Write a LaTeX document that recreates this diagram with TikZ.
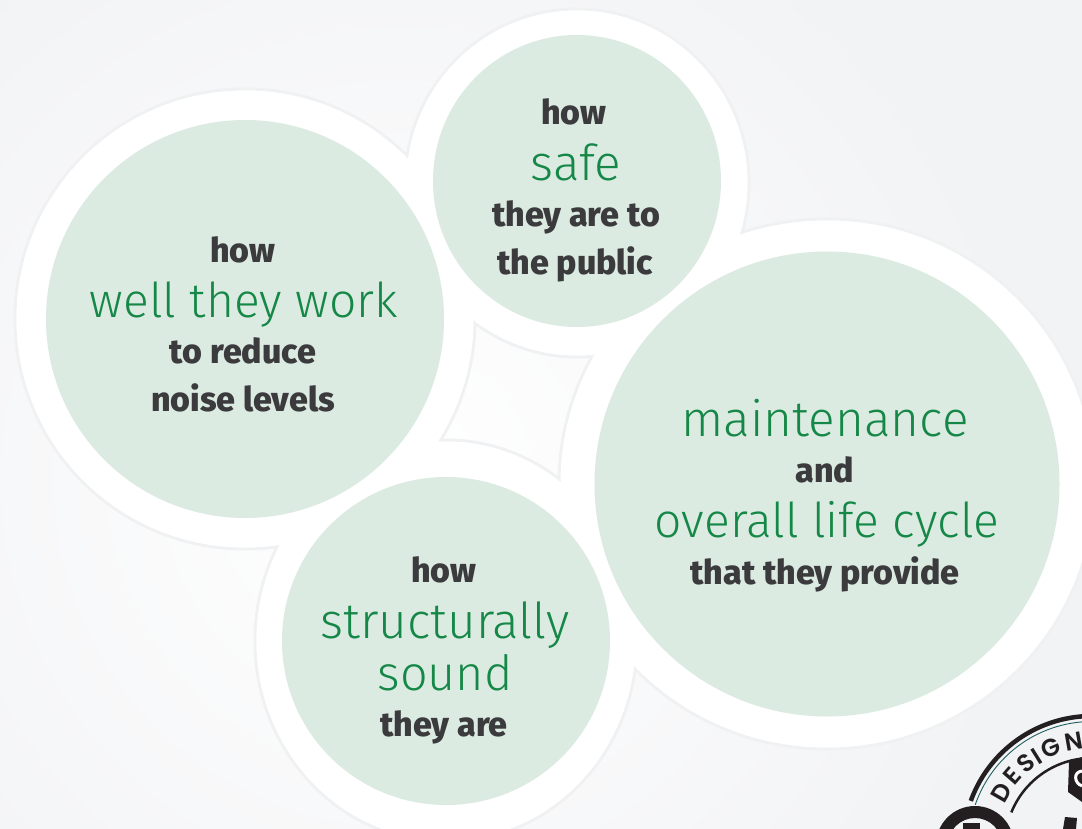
\documentclass[tikz,border=0pt]{standalone}
\usepackage{fontspec}
\setmainfont{Fira Sans}
\newfontfamily\lightfont{Fira Sans Light}
\newfontfamily\heavyfont{Fira Sans ExtraBold}
\newfontfamily\logofont{Poppins SemiBold}
\usetikzlibrary{shapes.geometric}
\definecolor{bgcol}{HTML}{F2F3F5}
\definecolor{rimcol}{HTML}{EFF1F2}
\definecolor{discol}{HTML}{DCEBE2}
\definecolor{greentx}{HTML}{158746}
\definecolor{darktx}{HTML}{3B3B3D}
\definecolor{logoblack}{HTML}{231F20}
\definecolor{logoteal}{HTML}{1F5F60}
\tikzset{
  x=1pt,y=-1pt,
  rim/.style={draw=rimcol,line width=3pt,fill=white},
  halo/.style={fill=white,draw=none},
  disc/.style={fill=discol,draw=none,ellipse,inner sep=0pt},
  bold/.style={font=\heavyfont\fontsize{34}{34}\selectfont,text=darktx,inner sep=0pt,anchor=base},
  big/.style={font=\lightfont\fontsize{#1}{#1}\selectfont,text=greentx,inner sep=0pt,anchor=base},
  big/.default=49,
  logoletter/.style={font=\logofont\fontsize{24.5}{24.5}\selectfont,text=logoblack,inner sep=0pt,rotate=#1},
}
\newcommand{\logoglyph}[3]{\node[logoletter=#2] (logo#1) at ({1092-105*sin(#2)},{845-105*cos(#2)}) {#3};}
\begin{document}
\begin{tikzpicture}
\useasboundingbox (0,0) rectangle (1082,829);
\path[clip] (0,0) rectangle (1082,829);
\fill[bgcol] (0,0) rectangle (1082,829);
\shade[inner color=white,outer color=bgcol] (400,480) circle (640);
% rims of the white surround
\draw[rim] (245,319) circle (230);
\draw[rim] (577,183) ellipse (172 and 174);
\draw[rim] (827,484) ellipse (268 and 265);
\draw[rim] (446,641) ellipse (191 and 201);
\fill[halo] (245,319) circle (228.5);
\fill[halo] (577,183) ellipse (170.5 and 172.5);
\fill[halo] (827,484) ellipse (266.5 and 263.5);
\fill[halo] (446,641) ellipse (189.5 and 199.5);
% discs
\node[disc,minimum width=398pt,minimum height=398pt] (dleft) at (245,319) {};
\node[disc,minimum width=288pt,minimum height=292pt] (dtop) at (577,181) {};
\node[disc,minimum width=465pt,minimum height=465pt] (dright) at (827,484) {};
\node[disc,minimum width=328pt,minimum height=328pt] (dbottom) at (446,641) {};
% texts
\node[bold] (l1) at (243,262) {how};
\node[big=48] (l2) at (244,317) {well they work};
\node[bold] (l3) at (243,363) {to reduce};
\node[bold] (l4) at (243,411) {noise levels};
\node[bold] (t1) at (574,125) {how};
\node[big=49.5] (t2) at (576,181) {safe};
\node[bold] (t3) at (576,227) {they are to};
\node[bold] (t4) at (575,274) {the public};
\node[big=49.5] (r1) at (825,436) {maintenance};
\node[bold] (r2) at (825,482) {and};
\node[big=48] (r3) at (827,537) {overall life cycle};
\node[bold] (r4) at (825,584) {that they provide};
\node[bold] (b1) at (444,582) {how};
\node[big=49.5] (b2) at (445,638) {structurally};
\node[big=48.5] (b3) at (445,690) {sound};
\node[bold] (b4) at (444,736) {they are};
% logo
\draw[logoblack,line width=4.5pt] (1092,845) ++(200:129) arc[start angle=200,end angle=275,radius=129];
\draw[logoteal,line width=0.9pt] (1092,845) ++(199:123.5) arc[start angle=199,end angle=275,radius=123.5];
\draw[logoblack,line width=2.5pt] (1092,845) ++(202:87) arc[start angle=202,end angle=275,radius=87];
\logoglyph{a}{60}{D}
\logoglyph{b}{49}{E}
\logoglyph{c}{39}{S}
\logoglyph{d}{32}{I}
\logoglyph{e}{23}{G}
\logoglyph{f}{10}{N}
% ring with the bar inside
\fill[logoblack,even odd rule] (975,845) circle (39) (975,845) circle (27);
\fill[logoblack] (963,823) rectangle (980,829);
% shield at the right edge
\fill[logoblack] (1069,762) -- (1082,757) -- (1090,757) -- (1090,806) -- (1082,802) -- (1068,792) -- cycle;
\draw[white,line width=3pt] (1082,771) .. controls (1073,772) and (1074,783) .. (1082,786);
% figure at the lower right
\fill[logoblack] (1065,817) -- (1077,818) -- (1076,829) -- (1063,829) -- cycle;
\end{tikzpicture}
\end{document}
